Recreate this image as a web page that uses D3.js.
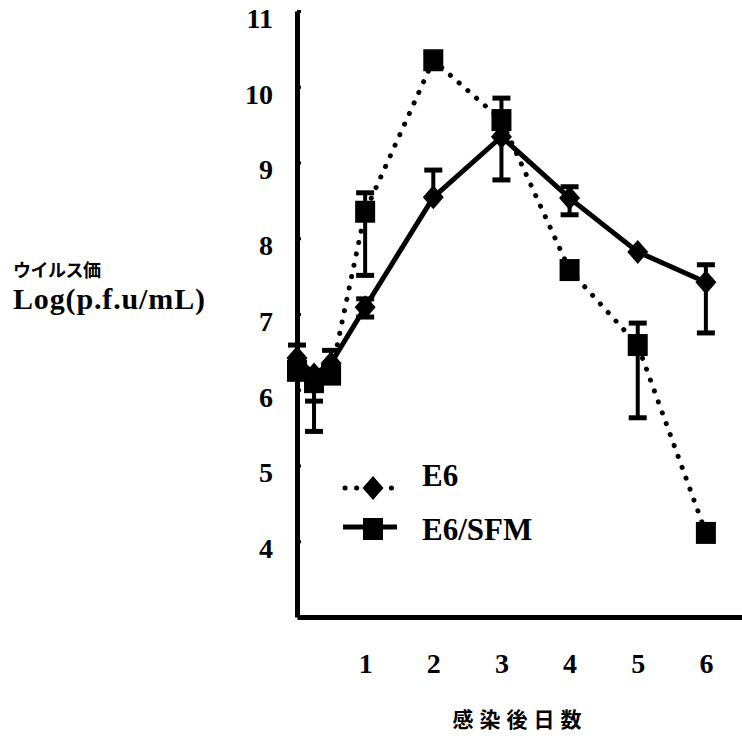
<!DOCTYPE html>
<html>
<head>
<meta charset="utf-8">
<script src="https://cdn.jsdelivr.net/npm/d3@7"></script>
<style>
  html, body { margin: 0; padding: 0; background: #fff; }
  svg { display: block; }
  .serif { font-family: "Liberation Serif", "Times New Roman", serif; font-weight: bold; }
  .cjk { font-family: "Noto Sans CJK JP", sans-serif; font-weight: bold; }
</style>
</head>
<body>
<svg id="chart" width="742" height="739"></svg>
<script>
// days after infection
var days = [0, 0.25, 0.5, 1, 2, 3, 4, 5, 6];

// dotted series (square markers as drawn)
var dottedValues = [6.25, 6.1, 6.2, 8.35, 10.35, 9.56, 7.58, 6.59, 4.11];
var dottedErrLow = [null, 5.45, null, 7.51, null, null, null, 5.63, null];
var dottedErrHigh = [null, null, 6.52, 8.6, null, 9.85, null, 6.88, null];

// solid series (diamond markers as drawn)
var solidValues = [6.42, 6.2, 6.35, 7.09, 8.54, 9.34, 8.53, 7.82, 7.42];
var solidErrLow = [null, 5.85, null, 6.96, null, 8.77, 8.31, null, 6.75];
var solidErrHigh = [6.59, null, null, 7.2, 8.9, null, 8.68, null, 7.65];

var xTicks = [1, 2, 3, 4, 5, 6];
var yTicks = [4, 5, 6, 7, 8, 9, 10, 11];

var legendLabels = ["E6", "E6/SFM"];
var yTitleJa = "ウイルス価";
var yTitleUnit = "Log(p.f.u/mL)";
var xTitle = "感染後日数";

var svg = d3.select("#chart");

var x = d3.scaleLinear().domain([0, 6.53]).range([297, 742]);
var y = d3.scaleLinear().domain([3, 11]).range([617, 11]);

function rows(values, lo, hi) {
    return days.map(function (d, i) {
        return {day: d, value: values[i], lo: lo[i], hi: hi[i]};
    });
}
var dotted = rows(dottedValues, dottedErrLow, dottedErrHigh),
    solid = rows(solidValues, solidErrLow, solidErrHigh);

var squarePath = function (w, h) {
    return "M" + (-w / 2) + "," + (-h / 2) + "h" + w + "v" + h + "h" + (-w) + "Z";
};
var diamondPath = function (w, h) {
    return "M0," + (-h / 2) + "L" + (w / 2) + ",0L0," + (h / 2) + "L" + (-w / 2) + ",0Z";
};

// axes
var yAxis = d3.axisLeft(y).tickValues(yTicks).tickFormat(d3.format("d"))
    .tickSize(-4).tickSizeOuter(0).tickPadding(24);
var gy = svg.append("g").attr("transform", "translate(297,0)").call(yAxis);
gy.select(".domain").attr("stroke", "#000").attr("stroke-width", 5);
gy.selectAll(".tick line").attr("stroke", "#000").attr("stroke-width", 3);
gy.selectAll(".tick text")
    .attr("class", "serif")
    .attr("font-size", 28)
    .attr("fill", "#000")
    .attr("dy", "0.58em");

var xAxis = d3.axisBottom(x).tickValues(xTicks).tickFormat(d3.format("d"))
    .tickSize(0).tickSizeOuter(0).tickPadding(36);
var gx = svg.append("g").attr("transform", "translate(0,617)").call(xAxis);
gx.select(".domain").attr("stroke", "#000").attr("stroke-width", 5);
gx.selectAll(".tick text")
    .attr("class", "serif")
    .attr("font-size", 28)
    .attr("fill", "#000");

// axis titles
svg.append("text")
    .attr("class", "cjk")
    .attr("x", 520).attr("y", 727)
    .attr("text-anchor", "middle")
    .attr("font-size", 21)
    .attr("letter-spacing", 6)
    .text(xTitle);

svg.append("text")
    .attr("class", "cjk")
    .attr("x", 13).attr("y", 277)
    .attr("font-size", 18)
    .attr("letter-spacing", -0.5)
    .text(yTitleJa);

svg.append("text")
    .attr("class", "serif")
    .attr("x", 13).attr("y", 309)
    .attr("font-size", 30)
    .attr("textLength", 192)
    .text(yTitleUnit);

// lines
var line = d3.line().x(function (d) { return x(d.day); }).y(function (d) { return y(d.value); });

svg.append("path")
    .datum(dotted)
    .attr("d", line)
    .attr("fill", "none")
    .attr("stroke", "#000")
    .attr("stroke-width", 5)
    .attr("stroke-linecap", "round")
    .attr("stroke-dasharray", "0.1 11.5");

svg.append("path")
    .datum(solid)
    .attr("d", line)
    .attr("fill", "none")
    .attr("stroke", "#000")
    .attr("stroke-width", 5);

// error bars
function drawErrors(data) {
    var bars = [];
    data.forEach(function (d) {
        if (d.lo !== null) bars.push({day: d.day, from: d.value, to: d.lo});
        if (d.hi !== null) bars.push({day: d.day, from: d.value, to: d.hi});
    });
    var g = svg.append("g").attr("stroke", "#000");
    g.selectAll("line.bar").data(bars).enter().append("line")
        .attr("class", "bar")
        .attr("x1", function (d) { return x(d.day); })
        .attr("x2", function (d) { return x(d.day); })
        .attr("y1", function (d) { return y(d.from); })
        .attr("y2", function (d) { return y(d.to); })
        .attr("stroke-width", 4);
    g.selectAll("line.cap").data(bars).enter().append("line")
        .attr("class", "cap")
        .attr("x1", function (d) { return x(d.day) - 9; })
        .attr("x2", function (d) { return x(d.day) + 9; })
        .attr("y1", function (d) { return y(d.to); })
        .attr("y2", function (d) { return y(d.to); })
        .attr("stroke-width", 5);
}
drawErrors(dotted);
drawErrors(solid);

// markers
svg.append("g").selectAll("path").data(solid).enter().append("path")
    .attr("d", diamondPath(21, 24))
    .attr("transform", function (d) { return "translate(" + x(d.day) + "," + y(d.value) + ")"; })
    .attr("fill", "#000");

svg.append("g").selectAll("path").data(dotted).enter().append("path")
    .attr("d", squarePath(20, 22))
    .attr("transform", function (d) { return "translate(" + x(d.day) + "," + y(d.value) + ")"; })
    .attr("fill", "#000");

// legend
var legend = svg.append("g");
var l1 = legend.append("g").attr("transform", "translate(373,488)");
l1.append("line")
    .attr("x1", -28).attr("x2", 20).attr("y1", 0).attr("y2", 0)
    .attr("stroke", "#000").attr("stroke-width", 5)
    .attr("stroke-linecap", "round").attr("stroke-dasharray", "0.1 11.5");
l1.append("path").attr("d", diamondPath(21, 24)).attr("fill", "#000");
legend.append("text")
    .attr("class", "serif")
    .attr("x", 422).attr("y", 486)
    .attr("font-size", 31)
    .text(legendLabels[0]);

var l2 = legend.append("g").attr("transform", "translate(373,529)");
l2.append("line")
    .attr("x1", -30).attr("x2", 24).attr("y1", -2).attr("y2", -2)
    .attr("stroke", "#000").attr("stroke-width", 5);
l2.append("path").attr("d", squarePath(20, 22)).attr("fill", "#000");
legend.append("text")
    .attr("class", "serif")
    .attr("x", 422).attr("y", 540)
    .attr("font-size", 31)
    .text(legendLabels[1]);
</script>
</body>
</html>
